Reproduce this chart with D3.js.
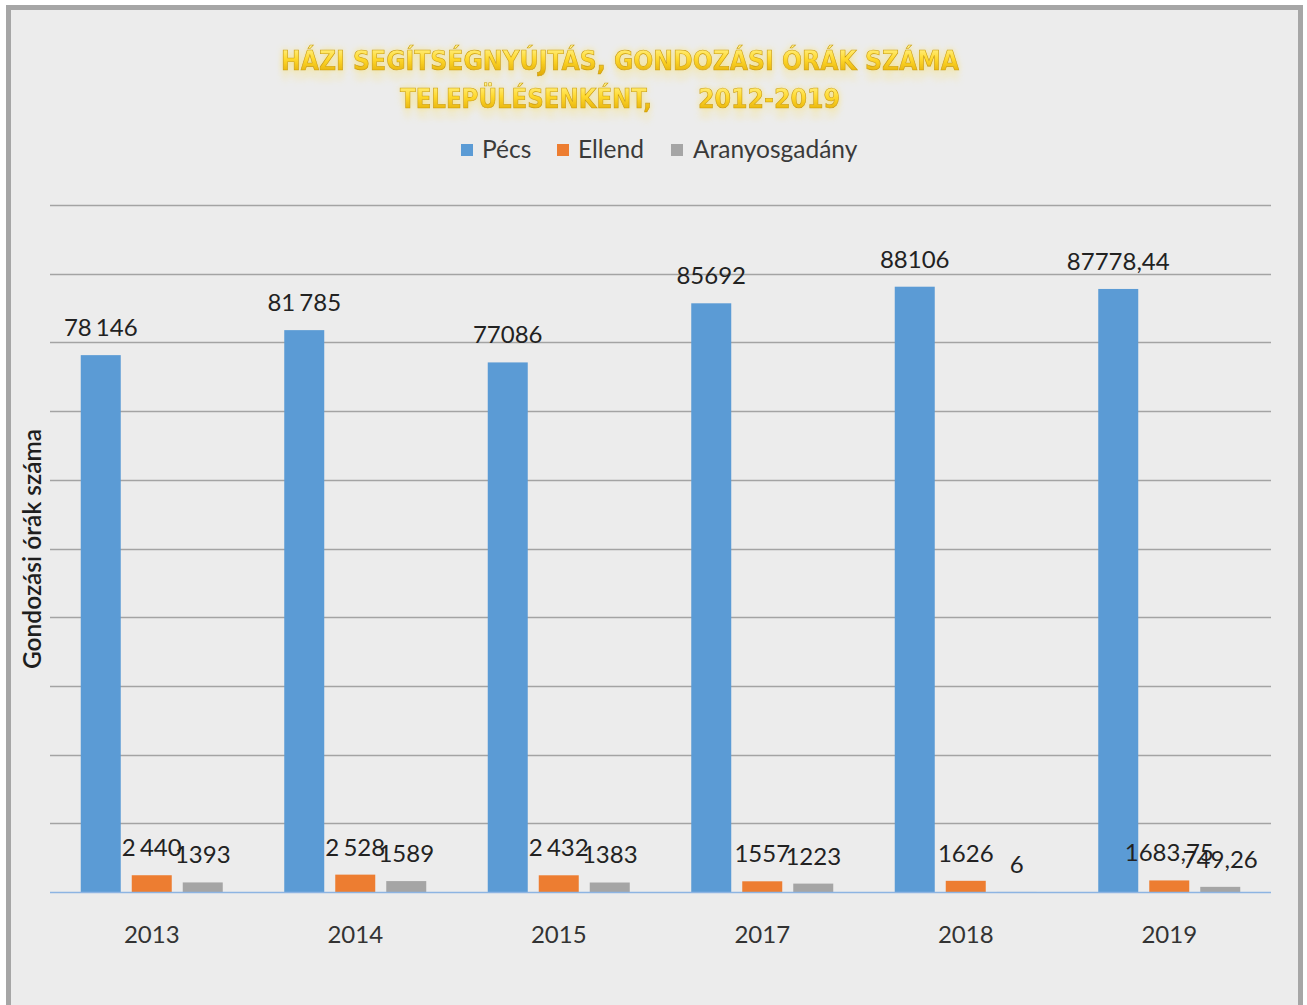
<!DOCTYPE html>
<html>
<head>
<meta charset="utf-8">
<script src="https://cdn.jsdelivr.net/npm/d3@7"></script>
<style>
  html, body { margin: 0; padding: 0; background: #ffffff; }
  svg { display: block; }
</style>
</head>
<body>
<svg id="chart" width="1307" height="1005"></svg>
<script>
// ---- data ----
const categories = ["2013", "2014", "2015", "2017", "2018", "2019"];
const seriesNames = ["Pécs", "Ellend", "Aranyosgadány"];
const pecsValues = [78146, 81785, 77086, 85692, 88106, 87778.44];
const ellendValues = [2440, 2528, 2432, 1557, 1626, 1683.75];
const aranyosValues = [1393, 1589, 1383, 1223, 6, 749.26];
const pecsLabels = ["78 146", "81 785", "77086", "85692", "88106", "87778,44"];
const ellendLabels = ["2 440", "2 528", "2 432", "1557", "1626", "1683,75"];
const aranyosLabels = ["1393", "1589", "1383", "1223", "6", "749,26"];
const yTicks = [0, 10000, 20000, 30000, 40000, 50000, 60000, 70000, 80000, 90000, 100000];
const titleLine1 = "HÁZI SEGÍTSÉGNYÚJTÁS, GONDOZÁSI ÓRÁK SZÁMA";
const titleLine2a = "TELEPÜLÉSENKÉNT,";
const titleLine2b = "2012-2019";
const yAxisTitle = "Gondozási órák száma";

const colors = ["#5b9bd5", "#ed7d31", "#a5a5a5"];
const seriesValues = [pecsValues, ellendValues, aranyosValues];
const seriesLabels = [pecsLabels, ellendLabels, aranyosLabels];

const svg = d3.select("#chart");
const FONT = "Lato, 'Open Sans', sans-serif";

// frame
svg.append("rect").attr("x", 8.5).attr("y", 7.5).attr("width", 1292).attr("height", 1010)
  .attr("fill", "#ececec").attr("stroke", "#a6a6a6").attr("stroke-width", 5);

// defs for title
const defs = svg.append("defs");
const grad = defs.append("linearGradient").attr("id", "gold").attr("x1", 0).attr("y1", 0).attr("x2", 0).attr("y2", 1);
grad.append("stop").attr("offset", "0%").attr("stop-color", "#fff59a");
grad.append("stop").attr("offset", "45%").attr("stop-color", "#ffd92e");
grad.append("stop").attr("offset", "100%").attr("stop-color", "#e0a800");
const glow = defs.append("filter").attr("id", "glow").attr("x", "-10%").attr("y", "-60%").attr("width", "120%").attr("height", "250%");
glow.append("feGaussianBlur").attr("in", "SourceAlpha").attr("stdDeviation", 3).attr("result", "b");
glow.append("feFlood").attr("flood-color", "#f7e27a").attr("flood-opacity", 0.9);
glow.append("feComposite").attr("in2", "b").attr("operator", "in").attr("result", "g");
// soft reflection-like fade below the glyphs
glow.append("feOffset").attr("in", "g").attr("dy", 10).attr("result", "o");
glow.append("feComponentTransfer").attr("in", "o").attr("result", "o2")
  .append("feFuncA").attr("type", "linear").attr("slope", 0.35);
const merge = glow.append("feMerge");
merge.append("feMergeNode").attr("in", "o2");
merge.append("feMergeNode").attr("in", "g");
merge.append("feMergeNode").attr("in", "SourceGraphic");

const titleItems = [
  { text: titleLine1, x: 281, y: 70, len: 678 },
  { text: titleLine2a, x: 400, y: 108, len: 252 },
  { text: titleLine2b, x: 698, y: 108, len: 142 }
];
const TFONT = "'DejaVu Sans Condensed', 'DejaVu Sans', sans-serif";
titleItems.forEach(t => {
  svg.append("text")
    .attr("x", t.x).attr("y", t.y)
    .attr("textLength", t.len).attr("lengthAdjust", "spacingAndGlyphs")
    .attr("font-family", TFONT).attr("font-weight", "bold").attr("font-size", 27)
    .attr("fill", "url(#gold)").attr("stroke", "#c99a00").attr("stroke-width", 0.6)
    .attr("filter", "url(#glow)")
    .text(t.text);
});

// legend
const legendItems = [
  { sq: 461, tx: 482 },
  { sq: 557, tx: 578 },
  { sq: 671, tx: 693 }
];
seriesNames.forEach((name, i) => {
  svg.append("rect").attr("x", legendItems[i].sq).attr("y", 144).attr("width", 12).attr("height", 12)
    .attr("fill", colors[i]);
  svg.append("text").attr("x", legendItems[i].tx).attr("y", 158)
    .attr("font-family", FONT).attr("font-size", 24.5).attr("fill", "#3a3a3a").text(name);
});

// scales
const x0 = d3.scaleBand().domain(categories).range([50, 1271]).paddingInner(0).paddingOuter(0);
const x1 = d3.scaleBand().domain(seriesNames).range([0, x0.bandwidth()]).paddingInner(0.2157).paddingOuter(0.603);
const y = d3.scaleLinear().domain([0, 100000]).range([892, 205]);

// gridlines
svg.append("g").selectAll("line").data(yTicks.filter(d => d > 0)).join("line")
  .attr("x1", 50).attr("x2", 1271)
  .attr("y1", d => Math.round(y(d)) + 0.5).attr("y2", d => Math.round(y(d)) + 0.5)
  .attr("stroke", "#a3a3a3").attr("stroke-width", 1.3);

// bars
seriesNames.forEach((name, si) => {
  const g = svg.append("g");
  g.selectAll("rect").data(categories).join("rect")
    .attr("x", c => x0(c) + x1(name))
    .attr("y", (c, i) => y(seriesValues[si][i]))
    .attr("width", x1.bandwidth())
    .attr("height", (c, i) => y(0) - y(seriesValues[si][i]))
    .attr("fill", colors[si]);
});

// baseline
svg.append("line").attr("x1", 50).attr("x2", 1271).attr("y1", y(0) + 0.5).attr("y2", y(0) + 0.5)
  .attr("stroke", "#8db4e2").attr("stroke-width", 1.6);

// data labels
seriesNames.forEach((name, si) => {
  svg.append("g").selectAll("text").data(categories).join("text")
    .attr("x", c => x0(c) + x1(name) + x1.bandwidth() / 2)
    .attr("y", (c, i) => y(seriesValues[si][i]) - 19)
    .attr("text-anchor", "middle")
    .attr("font-family", FONT).attr("font-size", 24).attr("fill", "#222")
    .attr("word-spacing", -2)
    .text((c, i) => seriesLabels[si][i]);
});

// x axis labels
const xAxis = d3.axisBottom(x0).tickSize(0).tickPadding(0);
const xg = svg.append("g").attr("transform", "translate(0,926)").call(xAxis);
xg.select(".domain").remove();
xg.selectAll("text").attr("font-family", FONT).attr("font-size", 24).attr("fill", "#333")
  .attr("dy", "0.72em");

// y axis title
svg.append("text")
  .attr("transform", "translate(41,549) rotate(-90)")
  .attr("text-anchor", "middle")
  .attr("font-family", FONT).attr("font-size", 24.5).attr("font-weight", 600).attr("fill", "#1e1e1e")
  .text(yAxisTitle);
</script>
</body>
</html>
